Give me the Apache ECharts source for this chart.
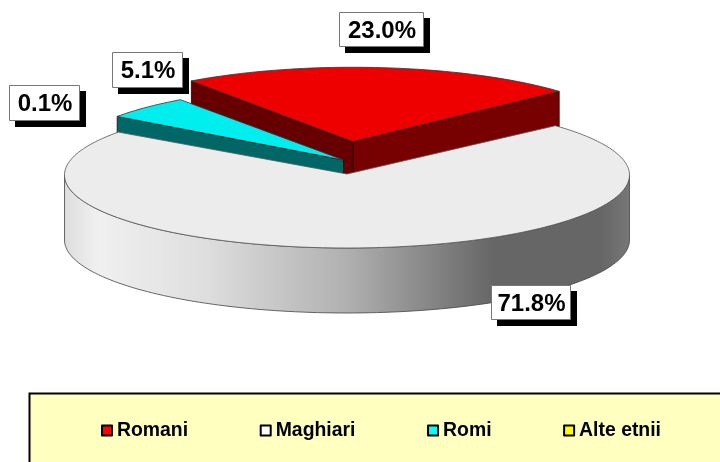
<!DOCTYPE html>
<html><head><meta charset="utf-8">
<style>html,body{margin:0;padding:0;background:#fff}#c{width:720px;height:462px}</style>
<script src="https://cdn.jsdelivr.net/npm/echarts@6/dist/echarts.min.js"></script>
</head><body><div id="c"></div>
<script>
const categories = ['Romani', 'Maghiari', 'Romi', 'Alte etnii'];
const values = [23.0, 71.8, 5.1, 0.1];
const legendColors = ['#ff0000', '#ffffff', '#00ffff', '#ffff00'];
const topColors = ['#ee0000', '#ececec', '#00eeee', '#eeee00'];
const wallColors = [['#660000', '#770000'], null, ['#006666', null], ['#666600', null]];
const drawOrder = [3, 0, 2, 1];

const FONT = '"Liberation Sans", Arial, sans-serif';
const pie = { cx: 347, cy: 175, rx: 282.5, depth: 65, start: 125.3 };
const slices = [
  { dx: 6, dy: -33.5, r: 0.99, ry: 75, box: [339.5, 12.5, 84, 34] },
  { dx: 0, dy: 0, r: 1, ry: 73, box: [491.5, 285.5, 79, 34] },
  { dx: -3.5, dy: -15, r: 0.99, ry: 75, box: [112.5, 52.5, 70, 35] },
  { dx: 0, dy: 0, r: 1, ry: 73, box: [9.5, 85.5, 70, 35] }
];

const total = values.reduce((a, b) => a + b, 0);
function angles(i) {
  let a = pie.start;
  for (let k = 0; k < i; k++) a -= values[k] / total * 360;
  return [a, a - values[i] / total * 360];
}
function pt(s, deg, down) {
  const t = deg * Math.PI / 180;
  return [pie.cx + s.dx + pie.rx * s.r * Math.cos(t),
          pie.cy + s.dy - s.ry * s.r * Math.sin(t) + (down || 0)];
}
function arc(s, a0, a1, down) {
  const n = Math.max(2, Math.ceil(Math.abs(a0 - a1) / 1.5));
  const out = [];
  for (let k = 0; k <= n; k++) out.push(pt(s, a0 + (a1 - a0) * k / n, down));
  return out;
}
function poly(points, fill, stroke, lw) {
  return { type: 'polygon', shape: { points }, style: { fill, stroke: stroke || '#333', lineWidth: lw || 0.8, lineJoin: 'round' } };
}
function labelKids(i) {
  const b = slices[i].box;
  return [
    { type: 'rect', shape: { x: b[0] + 5.5, y: b[1] + 5.5, width: b[2] + 1, height: b[3] + 1 }, style: { fill: '#000' }, z2: 20 },
    { type: 'rect', shape: { x: b[0], y: b[1], width: b[2], height: b[3] }, style: { fill: '#fff', stroke: '#777', lineWidth: 1 }, z2: 21 },
    { type: 'text', x: b[0] + b[2] / 2 + 0.5, y: b[1] + b[3] / 2 + 1.5, z2: 22,
      style: { text: values[i].toFixed(1) + '%', fill: '#000', font: 'bold 24px ' + FONT, align: 'center', verticalAlign: 'middle' } }
  ];
}
function render(i) {
  return function () {
    const s = slices[i];
    const [a0, a1] = angles(i);
    const kids = [];
    if (i === 1) {
      const wallTop = arc(s, 180, 360, 0);
      const wallBot = arc(s, 360, 180, pie.depth);
      kids.push({ type: 'polygon', shape: { points: wallTop.concat(wallBot) },
        style: { stroke: '#444', lineWidth: 0.8,
          fill: { type: 'linear', x: pie.cx - pie.rx, y: 0, x2: pie.cx + pie.rx, y2: 0, global: true,
            colorStops: [
              { offset: 0, color: '#dddddd' }, { offset: 0.06, color: '#f0f0f0' },
              { offset: 0.25, color: '#dedede' }, { offset: 0.5, color: '#b0b0b0' },
              { offset: 0.76, color: '#666666' }, { offset: 0.95, color: '#666666' }, { offset: 1, color: '#777777' }
            ] } } });
      kids.push(poly([[pie.cx, pie.cy - 1]].concat(arc(s, a0, a1, 0)), topColors[i], '#555', 0.8));
    } else {
      const apex = [pie.cx + s.dx, pie.cy + s.dy];
      const apexB = [apex[0], apex[1] + pie.depth];
      const end0 = pt(s, a0), end1 = pt(s, a1);
      const walls = wallColors[i];
      if (walls[1]) kids.push(poly([apex, end1, [end1[0], end1[1] + pie.depth], apexB], walls[1], '#200'));
      kids.push(poly([apex, end0, [end0[0], end0[1] + pie.depth], apexB], walls[0], '#200'));
      kids.push(poly([apex].concat(arc(s, a0, a1, 0)), topColors[i], '#333', 0.8));
    }
    return { type: 'group', children: kids.concat(labelKids(i)) };
  };
}

const chart = echarts.init(document.getElementById('c'), null, { renderer: 'canvas' });
chart.setOption({
  animation: false,
  backgroundColor: '#fff',
  graphic: [{
    type: 'rect', z: 0, silent: true,
    shape: { x: 29.5, y: 393.5, width: 720, height: 100 },
    style: { fill: '#ffffc0', stroke: '#000', lineWidth: 2 }
  }],
  legend: {
    left: 101, top: 421, z: 10, padding: 0,
    itemGap: 71.6, itemWidth: 10, itemHeight: 10,
    icon: 'rect',
    textStyle: { fontFamily: FONT, fontWeight: 'bold', fontSize: 19.4, color: '#000' },
    selectedMode: false,
    data: categories.map((c, i) => ({ name: c, itemStyle: { color: legendColors[i], borderColor: '#000', borderWidth: 2, borderJoin: 'round' } }))
  },
  series: drawOrder.map(i => ({
    type: 'custom',
    name: categories[i],
    coordinateSystem: 'none',
    z: 2 + drawOrder.indexOf(i),
    silent: true,
    itemStyle: { color: legendColors[i] },
    data: [[values[i]]],
    renderItem: render(i)
  }))
});
</script></body></html>
